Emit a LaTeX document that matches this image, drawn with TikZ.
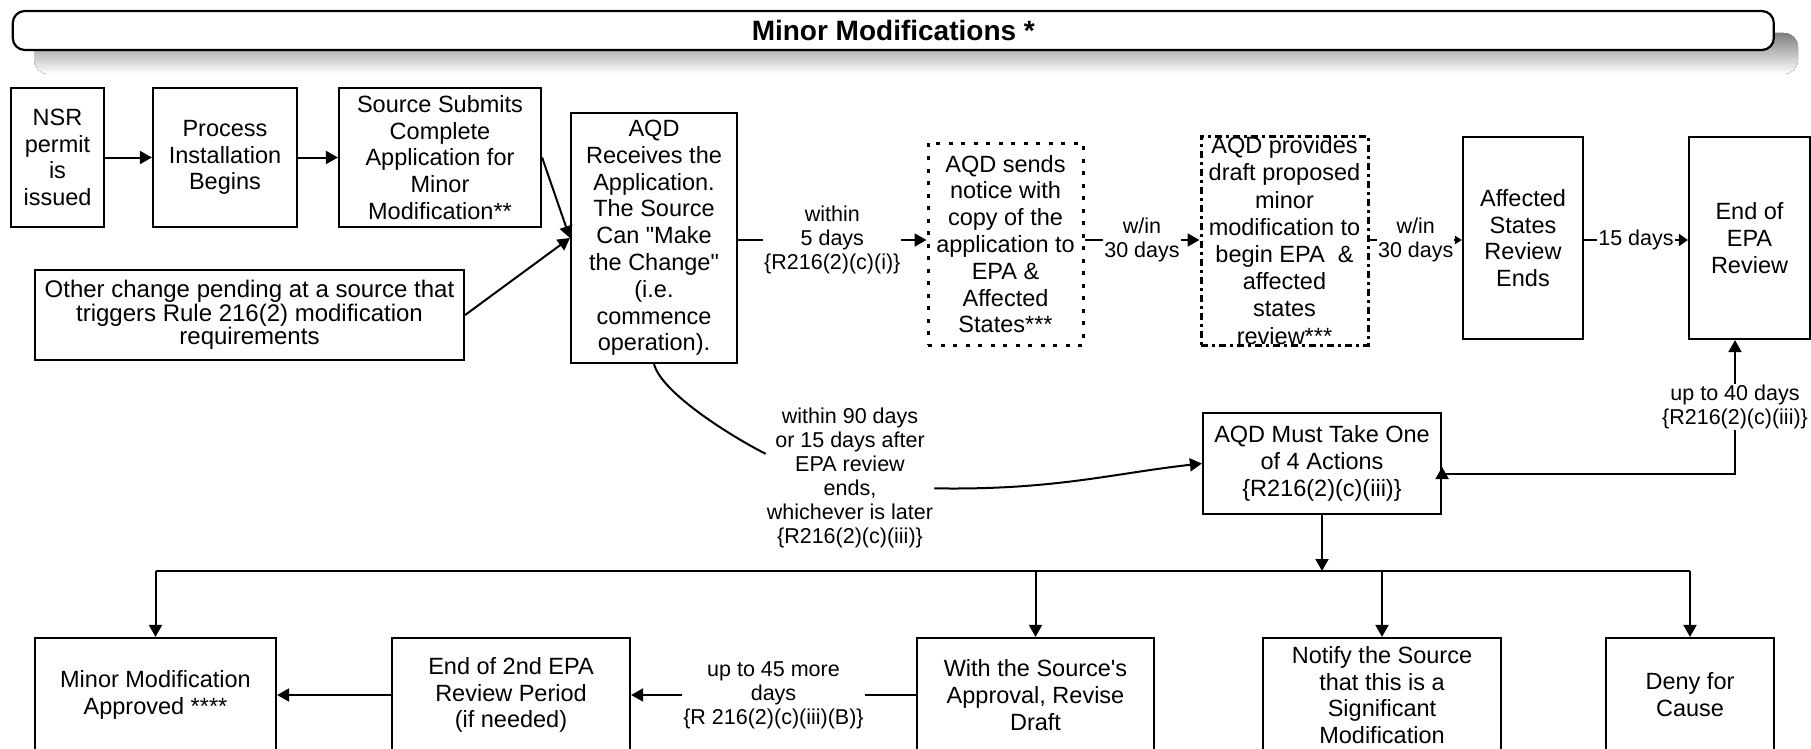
\documentclass[tikz,border=0pt]{standalone}
\usepackage{fontspec}
\setmainfont{Liberation Sans}
\usetikzlibrary{arrows.meta}
\definecolor{shade}{HTML}{C0C0C0}
\newcommand\boxfont{\fontsize{23.5}{26.8}\selectfont}
\newcommand\lblfont{\fontsize{21.5}{24}\selectfont}

\begin{document}
\begin{tikzpicture}[x=1pt, y=-1pt, >={Triangle[length=12pt,width=13pt]},
  box/.style={draw=black, line width=2.2pt, fill=white, align=center, font=\boxfont, inner sep=2pt},
  dotbox/.style={box, line width=3pt, dash pattern=on 4pt off 8.5pt},
  dashbox/.style={box, line width=3pt, dash pattern=on 7pt off 4pt on 3pt off 4pt},
  lbl/.style={fill=white, align=center, font=\lblfont, inner sep=1pt},
  conn/.style={line width=2pt}]
\clip (0,0) rectangle (1811,749);
\fill[white] (0,0) rectangle (1811,749);

% title bar with its shadow
\fill[shade, rounded corners=14] (34,33) rectangle (1798,74);
\node[box, rounded corners=12, minimum width=1761, minimum height=39, font=\bfseries\fontsize{28}{30}\selectfont] (title) at (893.3,30.5) {Minor Modifications *};

% application path
\node[box, minimum width=93, minimum height=139] (nsr) at (57.5,157.5) {NSR\\permit\\is\\issued};
\node[box, minimum width=144, minimum height=139] (proc) at (225,157.5) {Process\\Installation\\Begins};
\node[box, minimum width=202, minimum height=139] (submit) at (440,157.5) {Source Submits\\Complete\\Application for\\Minor\\Modification**};
\node[box, minimum width=429, minimum height=90, font=\fontsize{24}{23.5}\selectfont] (other) at (249.5,315) {Other change pending at a source that\\triggers Rule 216(2) modification\\requirements};
\node[box, minimum width=166, minimum height=250] (aqdrec) at (654,238) {AQD\\Receives the\\Application.\\The Source\\Can \textquotedbl Make\\the Change\textquotedbl\\(i.e.\\commence\\operation).};

% notices and reviews
\node[dotbox, minimum width=155, minimum height=202] (send) at (1005.5,244) {AQD sends\\notice with\\copy of the\\application to\\EPA \&\\Affected\\States***};
\node[dashbox, minimum width=167, minimum height=209, inner ysep=-12pt, font=\fontsize{23.5}{27.2}\selectfont] (draft) at (1284.5,240.5) {AQD provides\\draft proposed\\minor\\modification to\\begin EPA\ \ \&\\affected\\states\\review***};
\node[box, minimum width=120, minimum height=202] (states) at (1523,238) {Affected\\States\\Review\\Ends};
\node[box, minimum width=121, minimum height=202] (epaend) at (1749.5,238) {End of\\EPA\\Review};

% decision and its outcomes
\node[box, minimum width=238, minimum height=101] (must) at (1322,463.5) {AQD Must Take One\\of 4 Actions\\\{R216(2)(c)(iii)\}};
\node[box, minimum width=241, minimum height=114] (approved) at (155.5,695) {Minor Modification\\Approved ****};
\node[box, minimum width=238, minimum height=114] (end2) at (511,695) {End of 2nd EPA\\Review Period\\(if needed)};
\node[box, minimum width=237, minimum height=114] (revise) at (1035.5,695) {With the Source\textquotesingle s\\Approval, Revise\\Draft};
\node[box, minimum width=238, minimum height=114] (notify) at (1382,695) {Notify the Source\\that this is a\\Significant\\Modification};
\node[box, minimum width=168, minimum height=114] (deny) at (1690,695) {Deny for\\Cause};

\coordinate (toprow) at (0,240);
\coordinate (backrow) at (0,474);
\coordinate (bus) at (0,571);

\draw [conn, ->] (nsr) -- (proc) ;
\draw [conn, ->] (proc) -- (submit) ;
\draw [conn, ->] (submit.east) -- (aqdrec.west) ;
\draw [conn, ->] (other.east) -- (aqdrec.west) ;
\draw [conn, ->] (aqdrec.east |- toprow) -- node[lbl] {within\\5 days\\\{R216(2)(c)(i)\}} (send.west |- toprow) ;
\draw [conn, ->] (send.east |- toprow) -- node[lbl] {w/in\\30 days} (draft.west |- toprow) ;
\draw [conn, -{Triangle[length=7pt,width=8pt]}] (draft.east |- toprow) -- node[lbl] {w/in\\30 days} (states.west |- toprow) ;
\draw [conn, -{Triangle[length=9pt,width=12pt]}] (states.east |- toprow) -- node[lbl] {15 days} (epaend.west |- toprow) ;
\draw [conn, <->] (must.east |- 0,467) -- (must.east |- backrow) -| node[lbl, pos=0.75] {up to 40 days\\\{R216(2)(c)(iii)\}} (epaend.south -| 1735,0) ;

% late-decision path
\node[lbl] (late) at (850,478) {within 90 days\\or 15 days after\\EPA review\\ends,\\whichever is later\\\{R216(2)(c)(iii)\}};
\draw [conn] (aqdrec.south) .. controls +(8,30) and +(-30,-15) .. (late.164) ;
\draw [conn, ->] (late.-7.5) .. controls +(120,2) and +(-90,10) .. (must.west) ;

\draw [conn, ->] (must.south) -- (must.south |- bus) ;
\draw [conn] (approved.north |- bus) -- (deny.north |- bus) ;
\draw [conn, ->] (approved.north |- bus) -- (approved.north) ;
\draw [conn, ->] (revise.north |- bus) -- (revise.north) ;
\draw [conn, ->] (notify.north |- bus) -- (notify.north) ;
\draw [conn, ->] (deny.north |- bus) -- (deny.north) ;
\draw [conn, ->] (revise) -- node[lbl] {up to 45 more\\days\\\{R 216(2)(c)(iii)(B)\}} (end2) ;
\draw [conn, ->] (end2) -- (approved) ;
\end{tikzpicture}
\end{document}
